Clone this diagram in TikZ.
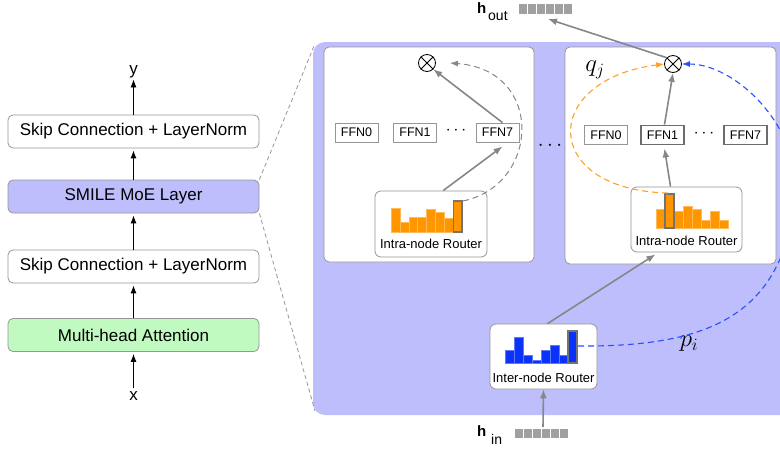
\documentclass[tikz,border=0pt]{standalone}
\usepackage{fontspec}
\setmainfont{Liberation Sans}
\usetikzlibrary{arrows.meta}
\definecolor{lav}{RGB}{190,190,252}
\definecolor{lgreen}{RGB}{192,250,192}
\definecolor{bord}{RGB}{150,150,150}
\definecolor{arr}{RGB}{135,135,135}
\definecolor{obar}{RGB}{255,150,0}
\definecolor{bbar}{RGB}{10,50,250}
\definecolor{dblue}{RGB}{40,80,250}
\definecolor{dorange}{RGB}{255,160,40}
\definecolor{sq}{RGB}{160,160,160}
\tikzset{
  lbox/.style={rectangle, rounded corners=5pt, draw=bord, line width=0.8pt, fill=white,
    minimum width=251pt, minimum height=33pt, inner sep=0pt, font=\fontsize{17}{20}\selectfont},
  lbl/.style={inner sep=0pt, font=\fontsize{17}{20}\selectfont},
  larr/.style={draw=black, line width=0.9pt, -{Latex[length=8pt,width=6pt]}},
  ffnbox/.style={rectangle, draw=bord, line width=0.8pt, fill=white, minimum width=43pt,
    minimum height=19pt, inner sep=0pt, font=\fontsize{12.5}{14}\selectfont},
  ffnsel/.style={ffnbox, draw=gray!85!black, line width=1.8pt},
  router/.style={rectangle, rounded corners=6pt, draw=bord, line width=0.8pt, fill=white, inner sep=0pt},
  rlabel/.style={inner sep=0pt, font=\fontsize{13}{15}\selectfont},
  panel/.style={rectangle, rounded corners=5pt, draw=bord, line width=0.8pt, fill=white},
  otimesnode/.style={circle, draw=black, line width=0.8pt, fill=white, minimum size=17pt, inner sep=0pt},
  garr/.style={draw=arr, line width=1.6pt, -{Latex[length=9pt,width=7pt]}},
  gdash/.style={draw=arr, line width=1pt, dash pattern=on 6pt off 4pt, -{Latex[length=8pt,width=6pt]}},
  odash/.style={draw=dorange, line width=1.1pt, dash pattern=on 6pt off 4pt, -{Latex[length=8pt,width=6pt]}},
  bdash/.style={draw=dblue, line width=1.1pt, dash pattern=on 6pt off 4pt, -{Latex[length=8pt,width=6pt]}},
  obarst/.style={fill=obar, draw=obar!65!white, line width=0.5pt},
  bbarst/.style={fill=bbar, draw=bbar!65!white, line width=0.5pt},
  hlbar/.style={draw=gray!90!black, line width=1.5pt},
  sqst/.style={fill=sq, draw=white, line width=0.7pt},
  zoomline/.style={draw=bord, line width=0.8pt, dash pattern=on 4pt off 3pt},
  dotsst/.style={inner sep=0pt, font=\fontsize{16}{16}\selectfont},
  mathlbl/.style={inner sep=0pt, font=\fontsize{24}{28}\selectfont},
}
\begin{document}
\begin{tikzpicture}[x=1pt,y=-1pt]
\useasboundingbox (0,0) rectangle (780,453);

% ---------------- left column ----------------
\node[lbox] (skip1) at (133.5,131.5) {Skip Connection + LayerNorm};
\node[lbox, fill=lav] (smile) at (133.5,196.5) {SMILE MoE Layer};
\node[lbox] (skip2) at (133.5,266.5) {Skip Connection + LayerNorm};
\node[lbox, fill=lgreen] (mha) at (133.5,335) {Multi-head Attention};
\node[lbl] (ylab) at (133.5,72) {y};
\node[lbl] (xlab) at (133.5,396) {x};
\draw[larr, shorten >=1pt] (skip1.north) -- (ylab.south);
\draw[larr, shorten >=2pt] (smile.north) -- (skip1.south);
\draw[larr, shorten >=2pt] (skip2.north) -- (smile.south);
\draw[larr, shorten >=2pt] (mha.north) -- (skip2.south);
\draw[larr, shorten <=3pt, shorten >=2pt] (xlab.north) -- (mha.south);

% ---------------- big panel ----------------
\fill[lav, rounded corners=12pt] (313,42) rectangle (810,415);
\coordinate (pTL) at (314,46);
\coordinate (pBL) at (315,411);
\draw[zoomline] (smile.north east) -- (pTL);
\draw[zoomline] (smile.south east) -- (pBL);

\node[panel, minimum width=210pt, minimum height=215pt] (panL) at (429,154.5) {};
\node[panel, minimum width=211pt, minimum height=217pt] (panR) at (670.5,155.5) {};
\node[inner sep=0pt, font=\fontsize{22}{22}\selectfont] (midots) at (550,146) {$\cdots$};

% ---------------- left inner panel ----------------
\node[otimesnode] (oxL) at (427,63) {};
\draw[line width=0.8pt] (oxL.north east) -- (oxL.south west) (oxL.north west) -- (oxL.south east);
\node[ffnbox] (f0L) at (356.5,132.5) {FFN0};
\node[ffnbox] (f1L) at (415,132.5) {FFN1};
\node[dotsst] (dL) at (456,131) {$\cdots$};
\node[ffnbox] (f7L) at (497.5,132.5) {FFN7};
\node[router, minimum width=112pt, minimum height=66pt] (irL) at (431,224) {};
\node[rlabel] (irLlab) at (431,244) {Intra-node Router};
\foreach \h [count=\i] in {24,10,15,15,23,20,14,31}
  \draw[obarst] ({391+(\i-1)*8.9},232) rectangle ({391+\i*8.9},{232-\h});
\draw[hlbar] (453.3,232) rectangle (462.2,201);
\coordinate (b8L) at (463,201);
\draw[garr] (irL.70) -- ([xshift=5pt,yshift=-4pt]f7L.south);
\draw[garr] ([xshift=5pt]f7L.north) -- (oxL.south east);
\draw[gdash] (b8L) .. controls (540,185) and (545,70) .. ([xshift=14pt]oxL.east);

% ---------------- right inner panel ----------------
\node[otimesnode] (oxR) at (673,64) {};
\draw[line width=0.8pt] (oxR.north east) -- (oxR.south west) (oxR.north west) -- (oxR.south east);
\node[ffnbox] (f0R) at (606,135) {FFN0};
\node[ffnsel] (f1R) at (662.5,135) {FFN1};
\node[dotsst] (dR) at (704,133.5) {$\cdots$};
\node[ffnsel] (f7R) at (745.5,135) {FFN7};
\node[router, minimum width=111pt, minimum height=65pt] (irR) at (686.5,219.5) {};
\node[rlabel] (irRlab) at (686.5,241) {Intra-node Router};
\foreach \h [count=\i] in {19,34,17,22,19,8,17,8}
  \draw[obarst] ({656+(\i-1)*9},228) rectangle ({656+\i*9},{228-\h});
\draw[hlbar] (665,228) rectangle (674,194);
\coordinate (b2R) at (668,193);
\node[mathlbl] (qj) at (595,70) {$q_j$};
\draw[garr] ([xshift=-16pt]irR.north) -- ([xshift=2pt,yshift=-3pt]f1R.south);
\draw[garr] ([xshift=2pt]f1R.north) -- (oxR.south);
\draw[odash] (b2R) .. controls (540,190) and (540,80) .. (oxR.west);

% ---------------- inter-node router ----------------
\node[router, minimum width=107pt, minimum height=65pt] (inter) at (543.5,356.5) {};
\node[rlabel] (interlab) at (543.5,378) {Inter-node Router};
\foreach \h [count=\i] in {13,26,8,3,13,18,8,32}
  \draw[bbarst] ({505+(\i-1)*9},363) rectangle ({505+\i*9},{363-\h});
\draw[hlbar] (568,363) rectangle (577,331);
\coordinate (b8I) at (578,346);
\node[mathlbl] (pi) at (689,344) {$p_i$};
\draw[garr] ([xshift=4pt]inter.north) -- ([xshift=-31pt,yshift=-2pt]irR.south);
\draw[bdash] (b8I) .. controls (700,347) and (772,320) .. (792,220)
   .. controls (815,140) and (740,64) .. (oxR.east);

% ---------------- h_out / h_in ----------------
\node[anchor=base west, inner sep=0pt, font=\fontsize{15}{15}\selectfont\bfseries] (hout) at (477,13) {h};
\node[anchor=base west, inner sep=0pt, font=\fontsize{14}{14}\selectfont] (houtsub) at (488,20.5) {out};
\foreach \i in {0,...,5}
  \draw[sqst] ({518+\i*9},3) rectangle ({527+\i*9},14);
\coordinate (houtsq) at (548,19);
\draw[garr] (oxR.north west) -- (houtsq);

\node[anchor=base west, inner sep=0pt, font=\fontsize{15}{15}\selectfont\bfseries] (hin) at (477,436) {h};
\node[anchor=base west, inner sep=0pt, font=\fontsize{14}{14}\selectfont] (hinsub) at (491,444) {in};
\foreach \i in {0,...,5}
  \draw[sqst] ({514+\i*9},428) rectangle ({523+\i*9},438);
\coordinate (hinsq) at (543,427);
\draw[garr] (hinsq) -- (inter.south);
\end{tikzpicture}
\end{document}
